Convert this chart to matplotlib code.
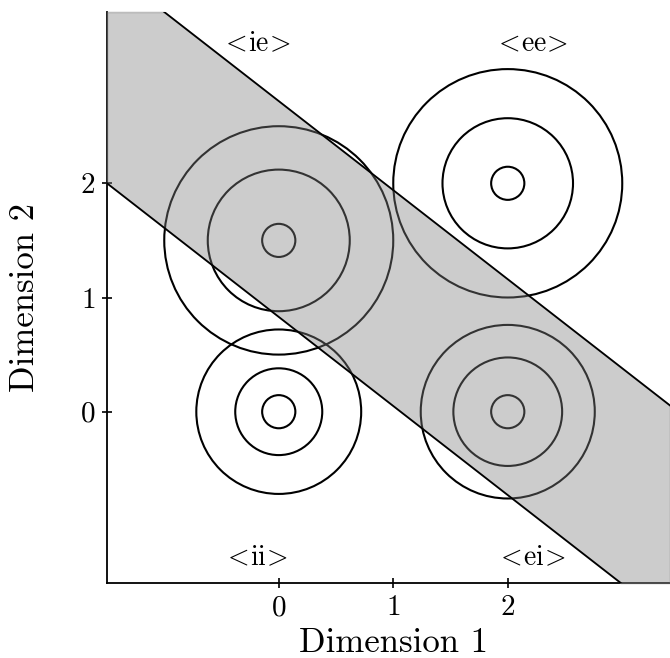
import numpy as np
import matplotlib
matplotlib.use("Agg")
from matplotlib import pyplot as plt
from matplotlib.patches import Circle

plt.rcParams['font.family'] = 'serif'
plt.rcParams['font.serif'] = ['cmr10']
plt.rcParams['mathtext.fontset'] = 'cm'
plt.rcParams['axes.formatter.use_mathtext'] = True

# contour rings around each class centre
centers = [(0.0, 0.0), (0.0, 1.5), (2.0, 0.0), (2.0, 2.0)]
radii = [[0.145, 0.38, 0.72],
         [0.145, 0.62, 1.0],
         [0.145, 0.475, 0.76],
         [0.145, 0.57, 1.0]]

# shaded band between two parallel lines y = c + s*x
slope = -0.78
lower_icpt = 0.83
upper_icpt = 2.72

labels = ['ie', 'ee', 'ii', 'ei']
label_pos = [(-0.2, 3.22), (2.2, 3.22), (-0.2, -1.28), (2.2, -1.28)]

ticks = [0, 1, 2]
xlim = (-1.5, 3.417)
ylim = (-1.5, 3.5)

fig = plt.figure(figsize=(6.7, 6.58), dpi=100)
ax = fig.add_axes([107 / 670, 75 / 658, 563 / 670, 571 / 658])

for (cx, cy), rs in zip(centers, radii):
    for r in rs:
        ax.add_patch(Circle((cx, cy), r, fill=False, ec='black', lw=1.5, zorder=2))

x = np.linspace(xlim[0], xlim[1], 2000)
lo = np.clip(lower_icpt + slope * x, ylim[0], ylim[1])
hi = np.clip(upper_icpt + slope * x, ylim[0], ylim[1])
ax.fill_between(x, lo, hi, facecolor='gray', edgecolor='gray', lw=1.2,
                alpha=0.4, zorder=3, clip_on=False)

xs = np.array(xlim)
ax.plot(xs, lower_icpt + slope * xs, color='black', lw=1.3, zorder=4)
ax.plot(xs, upper_icpt + slope * xs, color='black', lw=1.3, zorder=4)

for txt, (tx, ty) in zip(labels, label_pos):
    ax.text(tx, ty, r'$<\!\mathrm{%s}\!>$' % txt,
            ha='center', va='center', fontsize=20)

ax.set_xlim(*xlim)
ax.set_ylim(*ylim)
ax.set_xticks(ticks)
ax.set_yticks(ticks)
ax.tick_params(direction='inout', length=7, width=1.2, labelsize=21, pad=5)
for side in ['top', 'right']:
    ax.spines[side].set_visible(False)
for side in ['left', 'bottom']:
    ax.spines[side].set_linewidth(1.3)

ax.set_xlabel('Dimension 1', fontsize=25)
ax.set_ylabel('Dimension 2', fontsize=25)
ax.xaxis.set_label_coords((1 - xlim[0]) / (xlim[1] - xlim[0]), -0.078)
ax.yaxis.set_label_coords(-0.118, 0.5)

fig.savefig('out.png', dpi=100)
